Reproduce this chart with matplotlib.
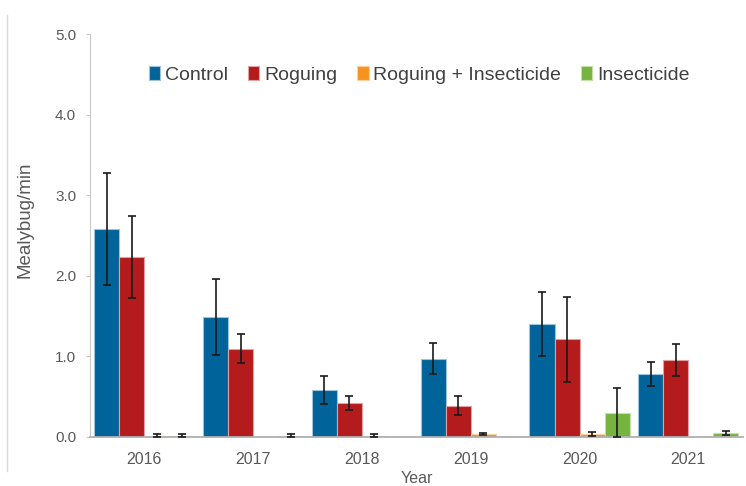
import numpy as np
import matplotlib
matplotlib.use('Agg')
import matplotlib.pyplot as plt
from matplotlib.lines import Line2D

# data (Mealybug/min, +/- error)
years = ['2016', '2017', '2018', '2019', '2020', '2021']
treatments = ['Control', 'Roguing', 'Roguing + Insecticide', 'Insecticide']

control = [2.58, 1.49, 0.58, 0.97, 1.40, 0.78]
control_err = [0.70, 0.47, 0.18, 0.19, 0.40, 0.15]
roguing = [2.23, 1.09, 0.42, 0.385, 1.21, 0.95]
roguing_err = [0.51, 0.18, 0.09, 0.12, 0.53, 0.20]
rog_insect = [0.01, 0.0, 0.01, 0.033, 0.033, 0.0]
rog_insect_err = [0.018, np.nan, 0.018, 0.015, 0.02, np.nan]
insect = [0.01, 0.01, 0.0, 0.0, 0.30, 0.046]
insect_err = [0.018, 0.018, np.nan, np.nan, 0.30, 0.03]

colors = ['#00639A', '#B31B1C', '#F7941D', '#76B43F']
edges = ['#9cc3da', '#e3a0a0', '#fbd09a', '#c3e0a6']

plt.rcParams['font.family'] = ['Liberation Sans', 'DejaVu Sans']

fig = plt.figure(figsize=(7.46, 4.86), dpi=100)
ax = fig.add_axes([0.1206, 0.1015, 0.875, 0.8279])

x = np.arange(len(years))
w = 0.23
series = [(control, control_err), (roguing, roguing_err),
          (rog_insect, rog_insect_err), (insect, insect_err)]
for i, (vals, errs) in enumerate(series):
    pos = x + (i - 1.5) * w
    ax.bar(pos, vals, width=w, color=colors[i], edgecolor=edges[i],
           linewidth=0.8, label=treatments[i], zorder=2)
    ax.errorbar(pos, vals, yerr=errs, fmt='none', ecolor='#1a1a1a',
                elinewidth=1.2, capsize=3, capthick=1.2, zorder=3)

ax.set_xlim(-0.5, len(years) - 0.5)
ax.set_ylim(0, 5.0)
ax.set_yticks(np.arange(0, 5.01, 1.0))
ax.set_yticklabels(['%.1f' % v for v in np.arange(0, 5.01, 1.0)])
ax.set_xticks(x)
ax.set_xticklabels(years)

for s in ['top', 'right']:
    ax.spines[s].set_visible(False)
ax.spines['left'].set_color('#c8c8c8')
ax.spines['bottom'].set_color('#b0b0b0')
ax.spines['bottom'].set_linewidth(1.3)

ax.tick_params(axis='y', colors='#c8c8c8', length=3, labelcolor='#595959',
               labelsize=11, pad=7)
ax.tick_params(axis='x', length=0, labelcolor='#595959', labelsize=11.5, pad=11)

ax.set_ylabel('Mealybug/min', fontsize=13.5, color='#595959')
ax.yaxis.set_label_coords(-0.087, 0.538)
ax.set_xlabel('Year', fontsize=11.5, color='#595959', labelpad=3)

fig.legend(loc='center', bbox_to_anchor=(0.562, 0.846), ncol=4, frameon=False,
           fontsize=14, handlelength=0.6, handleheight=0.7, handletextpad=0.25,
           columnspacing=1.0, labelcolor='#404040')

# thin grey border line at the left of the picture
fig.add_artist(Line2D([7 / 746, 7 / 746], [0.03, 0.97], transform=fig.transFigure,
                      color='#d9d9d9', linewidth=1))

fig.savefig('out.png', dpi=100)
